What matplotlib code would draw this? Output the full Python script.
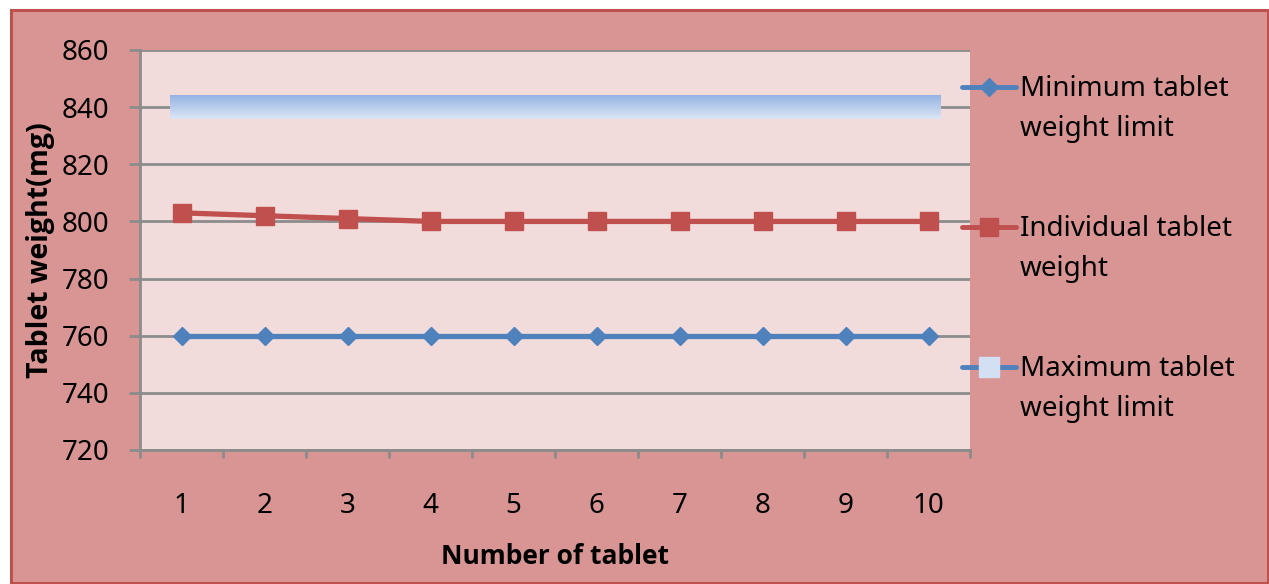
import numpy as np
import matplotlib.pyplot as plt
from matplotlib.lines import Line2D
from matplotlib.patches import Rectangle
from matplotlib.colors import LinearSegmentedColormap

# data
tablets = [1, 2, 3, 4, 5, 6, 7, 8, 9, 10]
min_limit = [760, 760, 760, 760, 760, 760, 760, 760, 760, 760]
individual = [803, 802, 801, 800, 800, 800, 800, 800, 800, 800]
max_limit = [840, 840, 840, 840, 840, 840, 840, 840, 840, 840]
y_ticks = [720, 740, 760, 780, 800, 820, 840, 860]
series_names = ["Minimum tablet\nweight limit", "Individual tablet\nweight",
                "Maximum tablet\nweight limit"]

outer_bg = "#D99594"
border = "#C0504D"
plot_bg = "#F2DCDB"
blue = "#4F81BD"
red = "#C0504D"
grid_col = "#8C8C8C"
W, H = 1269, 584

plt.rcParams["font.family"] = ["Noto Sans", "DejaVu Sans"]
bold_font = ["Open Sans", "DejaVu Sans"]

fig = plt.figure(figsize=(W / 100, H / 100), dpi=100)
fig.patch.set_facecolor("white")
fig.patches.append(Rectangle((10.5 / W, 1.0 / H), 1257 / W, (574.5 - 1.0) / H,
                             transform=fig.transFigure, facecolor=outer_bg,
                             edgecolor=border, linewidth=2.2, zorder=-5))

ax = fig.add_axes([140 / W, 1 - 450 / H, 830 / W, 400 / H])
ax.set_facecolor(plot_bg)

ax.set_yticks(y_ticks)
ax.yaxis.grid(True, color=grid_col, linewidth=2)
ax.set_axisbelow(True)

# major ticks on category boundaries, labels on minor ticks at the centres
ax.set_xticks(np.arange(0.5, 11, 1))
ax.set_xticklabels([])
ax.set_xticks(tablets, minor=True)
ax.set_xticklabels([str(t) for t in tablets], minor=True, fontsize=20)
ax.tick_params(axis="x", which="major", direction="out", length=6, width=2, color=grid_col)
ax.tick_params(axis="x", which="minor", length=0, pad=30)
ax.tick_params(axis="y", direction="out", length=8, width=2, color=grid_col,
               labelsize=20, pad=14)

for side in ["top", "right"]:
    ax.spines[side].set_visible(False)
for side in ["left", "bottom"]:
    ax.spines[side].set_color(grid_col)
    ax.spines[side].set_linewidth(2)

# maximum limit drawn as a thick gradient band
half = 4.2
grad = np.linspace(0, 1, 64).reshape(-1, 1)
cmap = LinearSegmentedColormap.from_list("band", ["#DCE6F4", "#95B3E3"])
ax.imshow(grad, aspect="auto", cmap=cmap, origin="lower",
          extent=[tablets[0] - 0.14, tablets[-1] + 0.14,
                  max_limit[0] - half, max_limit[0] + half],
          zorder=2)

ax.plot(tablets, min_limit, color=blue, linewidth=3.8, marker="D", markersize=9.5,
        markerfacecolor=blue, markeredgecolor=blue, zorder=3)
ax.plot(tablets, individual, color=red, linewidth=3.8, marker="s", markersize=13,
        markerfacecolor=red, markeredgecolor=red, zorder=3)

ax.set_xlim(0.5, 10.5)
ax.set_ylim(y_ticks[0], y_ticks[-1])

ax.set_xlabel("Number of tablet", fontsize=19, fontweight="bold", family=bold_font,
              labelpad=17)
ax.set_ylabel("Tablet weight(mg)", fontsize=20.5, fontweight="bold", family=bold_font,
              labelpad=5)

# legend drawn by hand so the key lines up with the first text line
handles = [
    dict(color=blue, marker="D", markersize=9.5, markerfacecolor=blue, markeredgecolor=blue),
    dict(color=red, marker="s", markersize=13, markerfacecolor=red, markeredgecolor=red),
    dict(color=blue, marker="s", markersize=15, markerfacecolor="#D3DFF2",
         markeredgecolor="#D3DFF2"),
]
for i, (style, name) in enumerate(zip(handles, series_names)):
    yc = 1 - (87 + 140 * i) / H
    fig.add_artist(Line2D([962 / W, 1016 / W], [yc, yc], transform=fig.transFigure,
                          linewidth=3.5, solid_capstyle="round", color=style["color"]))
    fig.add_artist(Line2D([989 / W], [yc], transform=fig.transFigure, linestyle="none",
                          **{k: v for k, v in style.items() if k != "color"}))
    fig.text(1020 / W, yc + 12 / H, name, fontsize=20, va="top", ha="left",
             linespacing=1.55)

fig.savefig("out.png", dpi=100, facecolor=fig.get_facecolor())
